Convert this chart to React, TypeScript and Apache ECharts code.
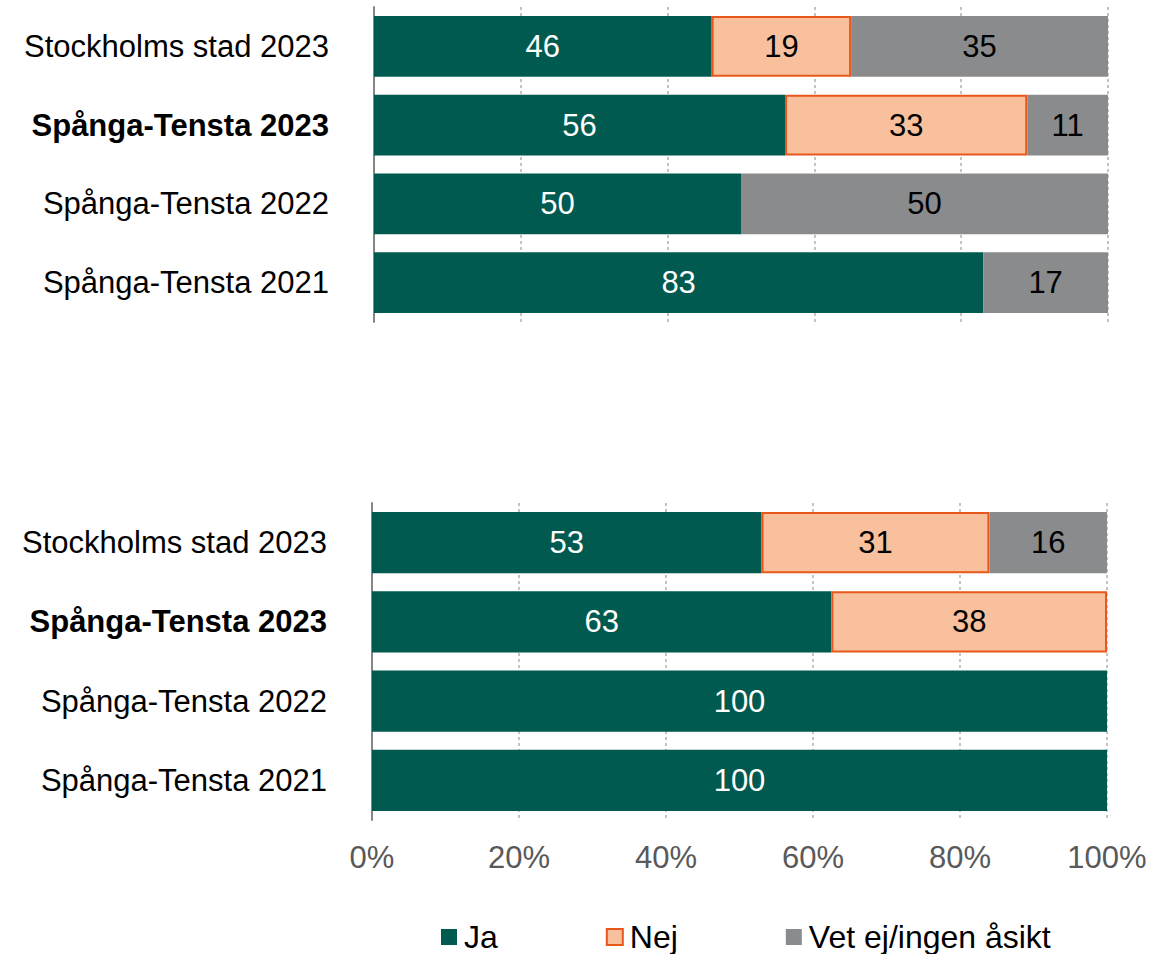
import React, { useEffect, useRef } from "react";
import * as echarts from "echarts";

const categories = [
  "Stockholms stad 2023",
  "Spånga-Tensta 2023",
  "Spånga-Tensta 2022",
  "Spånga-Tensta 2021",
];
const boldCategory = "Spånga-Tensta 2023";

const seriesNames = ["Ja", "Nej", "Vet ej/ingen åsikt"];

const topJa = [46, 56, 50, 83];
const topNej = [19, 33, 0, 0];
const topVet = [35, 11, 50, 17];

const bottomJa = [53, 62.5, 100, 100];
const bottomNej = [31, 37.5, 0, 0];
const bottomVet = [16, 0, 0, 0];

const xTicks = [0, 20, 40, 60, 80, 100];

const GREEN = "#005A4F";
const PEACH = "#F8C09D";
const ORANGE = "#E8581C";
const GRAY = "#898B8D";
const FONT = "Liberation Sans, Arial, sans-serif";
const FS = 31;

export default function App() {
  const ref = useRef<HTMLDivElement>(null);

  useEffect(() => {
    if (!ref.current) return;
    const chart = echarts.init(ref.current, undefined, { renderer: "svg" });

    const labelFmt = (p: any) => (p.value ? String(Math.round(p.value)) : "");

    const styles = [
      { color: GREEN, borderColor: GREEN, borderWidth: 0 },
      { color: PEACH, borderColor: ORANGE, borderWidth: 2 },
      { color: GRAY, borderColor: GRAY, borderWidth: 0 },
    ];
    const labelColors = ["#ffffff", "#000000", "#000000"];

    const makeSeries = (data: number[][], idx: number) =>
      data.map((d, i) => ({
        name: seriesNames[i],
        type: "bar",
        stack: "s" + idx,
        xAxisIndex: idx,
        yAxisIndex: idx,
        barCategoryGap: "23%",
        data: d.map((v) => (v === 0 ? "-" : v)),
        itemStyle: styles[i],
        label: {
          show: true,
          position: "inside",
          formatter: labelFmt,
          color: labelColors[i],
          fontSize: FS,
          fontFamily: FONT,
        },
      }));

    const makeX = (idx: number, showLabels: boolean) => ({
      type: "value",
      gridIndex: idx,
      min: xTicks[0],
      max: xTicks[xTicks.length - 1],
      interval: 20,
      axisLine: { show: false },
      axisTick: { show: false },
      axisLabel: {
        show: showLabels,
        formatter: "{value}%",
        color: "#595959",
        fontSize: FS,
        fontFamily: FONT,
        margin: 22,
      },
      splitLine: {
        show: true,
        lineStyle: { color: "#B0B0B0", width: 1.5, type: [3, 3] },
      },
    });

    const makeY = (idx: number) => ({
      type: "category",
      gridIndex: idx,
      data: categories,
      inverse: true,
      axisLine: { show: true, lineStyle: { color: "#868686", width: 2 } },
      axisTick: { show: false },
      axisLabel: {
        margin: 45,
        fontSize: FS,
        fontFamily: FONT,
        color: "#000000",
        formatter: (v: string) => (v === boldCategory ? "{b|" + v + "}" : v),
        rich: {
          b: { fontWeight: "bold", fontSize: FS, fontFamily: FONT, color: "#000000" },
        },
      },
    });

    chart.setOption({
      animation: false,
      backgroundColor: "#ffffff",
      textStyle: { fontFamily: FONT },
      legend: {
        data: seriesNames,
        icon: "rect",
        left: 441,
        top: 921,
        padding: 0,
        itemWidth: 16,
        itemHeight: 16,
        itemGap: 108,
        textStyle: { fontSize: 32, color: "#000000", fontFamily: FONT, padding: [0, 0, 0, 2] },
      },
      grid: [
        { left: 374, width: 734, top: 7, height: 315 },
        { left: 372, width: 735, top: 503, height: 317 },
      ],
      xAxis: [makeX(0, false), makeX(1, true)],
      yAxis: [makeY(0), makeY(1)],
      series: [
        ...makeSeries([topJa, topNej, topVet], 0),
        ...makeSeries([bottomJa, bottomNej, bottomVet], 1),
      ],
    });

    return () => chart.dispose();
  }, []);

  return (
    <div
      ref={ref}
      style={{ position: "fixed", left: 0, top: 0, width: 1159, height: 954 }}
    />
  );
}
